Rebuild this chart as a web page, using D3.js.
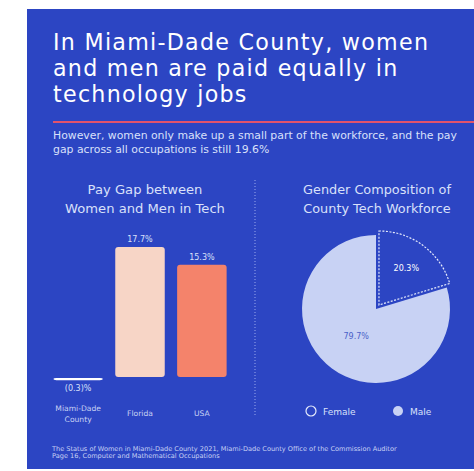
<!DOCTYPE html>
<html><head><meta charset="utf-8">
<script src="https://cdn.jsdelivr.net/npm/d3@7"></script>
<style>
html,body{margin:0;padding:0;background:#fff;}
svg{display:block;}
text{font-family:"DejaVu Sans","Open Sans",sans-serif;}
</style></head>
<body>
<svg id="c" width="474" height="471"></svg>
<script>
// ---- data ----
const titleLines = ["In Miami-Dade County, women", "and men are paid equally in", "technology jobs"];
const subtitleLines = ["However, women only make up a small part of the workforce, and the pay", "gap across all occupations is still 19.6%"];
const barTitle = ["Pay Gap between", "Women and Men in Tech"];
const barCategories = [["Miami-Dade", "County"], ["Florida"], ["USA"]];
const barValues = [-0.3, 17.7, 15.3];
const barLabels = ["(0.3)%", "17.7%", "15.3%"];
const pieTitle = ["Gender Composition of", "County Tech Workforce"];
const pieCategories = ["Female", "Male"];
const pieValues = [20.3, 79.7];
const pieLabels = ["20.3%", "79.7%"];
const sourceLines = ["The Status of Women in Miami-Dade County 2021, Miami-Dade County Office of the Commission Auditor", "Page 16, Computer and Mathematical Occupations"];

const BG = "#2c45c3";
const svg = d3.select("#c");

svg.append("rect").attr("x", 27).attr("y", 9).attr("width", 447).attr("height", 460).attr("fill", BG);

// fit a group of lines: size chosen so the reference line gets width w
function block(cls, lines, x, y0, dy, w, refIdx, attrs) {
  const sel = svg.selectAll("text." + cls).data(lines).join("text").attr("class", cls)
    .attr("x", x).attr("y", (d, i) => y0 + i * dy).text(d => d).attr("font-size", 10);
  Object.entries(attrs).forEach(([k, v]) => sel.attr(k, v));
  const l = sel.nodes()[refIdx].getComputedTextLength();
  sel.attr("font-size", 10 * w / l);
  return sel;
}

// title: fixed size to keep line boxes apart, widened with letter-spacing
const tsel = svg.selectAll("text.title").data(titleLines).join("text").attr("class", "title")
  .attr("x", 53).attr("y", (d, i) => 50 + i * 26).attr("fill", "#ffffff")
  .attr("font-size", 22.2).text(d => d);
{
  const n = tsel.nodes()[0];
  const w = n.getComputedTextLength();
  const ls = (375 - w) / (titleLines[0].length - 1);
  tsel.attr("letter-spacing", ls);
}

svg.append("line").attr("x1", 53).attr("x2", 474).attr("y1", 122).attr("y2", 122)
  .attr("stroke", "#e2536b").attr("stroke-width", 2);

block("sub", subtitleLines, 53, 139, 14, 404, 0, { fill: "#d9e0fa" });

// bar chart
const x = d3.scaleBand().domain(d3.range(barValues.length)).range([41, 239]).padding(0.2);
const y = d3.scaleLinear().domain([0, 17.7]).range([377, 247]);
const barColors = ["#ffffff", "#f7d5c6", "#f4836b"];

block("btitle", barTitle, 145, 194, 19, 160, 1, { fill: "#d9e0fa", "text-anchor": "middle" });

const g = svg.append("g");
g.selectAll("rect.bar").data(barValues).join("rect").attr("class", "bar")
  .attr("x", (d, i) => x(i)).attr("width", x.bandwidth())
  .attr("y", d => Math.min(y(0), y(d)) + (d < 0 ? 1 : 0))
  .attr("height", d => Math.max(2, Math.abs(y(d) - y(0))))
  .attr("rx", 3).attr("fill", (d, i) => barColors[i]);

g.selectAll("text.val").data(barValues).join("text").attr("class", "val")
  .attr("x", (d, i) => x(i) + x.bandwidth() / 2)
  .attr("y", d => d >= 0 ? y(d) - 5 : y(d) + 12)
  .attr("text-anchor", "middle").attr("fill", "#d9e0fa").attr("font-size", 8)
  .text((d, i) => barLabels[i]);

barCategories.forEach((lines, i) => {
  const cx = x(i) + x.bandwidth() / 2;
  lines.forEach((t, j) => {
    svg.append("text").attr("x", cx).attr("y", 416 - (lines.length - 1) * 5.5 + j * 11)
      .attr("text-anchor", "middle").attr("fill", "#c8d2f4").attr("font-size", 7.6).text(t);
  });
});

// divider
svg.append("line").attr("x1", 255).attr("x2", 255).attr("y1", 180).attr("y2", 416)
  .attr("stroke", "#9aa9ec").attr("stroke-width", 1).attr("stroke-dasharray", "1,2");

// pie
block("ptitle", pieTitle, 377, 194, 19, 148, 0, { fill: "#d9e0fa", "text-anchor": "middle" });

const cx = 376, cy = 309, R = 74;
const pie = d3.pie().sort(null)(pieValues);
const arc = d3.arc().innerRadius(0).outerRadius(R);
const explode = [5, 0];
const labelR = [0.62, 0.45];
const off = (d, r) => {
  const a = (d.startAngle + d.endAngle) / 2;
  return [r * Math.sin(a), -r * Math.cos(a)];
};
const pg = svg.append("g").attr("transform", `translate(${cx},${cy})`);
pg.selectAll("path").data(pie).join("path")
  .attr("d", arc)
  .attr("transform", (d, i) => { const o = off(d, explode[i]); return `translate(${o[0]},${o[1]})`; })
  .attr("fill", (d, i) => i === 0 ? BG : "#c8d2f4")
  .attr("stroke", (d, i) => i === 0 ? "#e6ebfc" : "none")
  .attr("stroke-width", 1.2)
  .attr("stroke-dasharray", (d, i) => i === 0 ? "2,1.5" : null);

pg.selectAll("text").data(pie).join("text")
  .attr("transform", (d, i) => { const o = off(d, R * labelR[i] + explode[i]); return `translate(${o[0]},${o[1] + 3})`; })
  .attr("text-anchor", "middle").attr("font-size", 8)
  .attr("fill", (d, i) => i === 0 ? "#ffffff" : "#4a61c8")
  .text((d, i) => pieLabels[i]);

// legend
const legX = [311, 398];
pieCategories.forEach((c, i) => {
  svg.append("circle").attr("cx", legX[i]).attr("cy", 411).attr("r", 5)
    .attr("fill", i === 0 ? "none" : "#c8d2f4").attr("stroke", i === 0 ? "#e6ebfc" : "none").attr("stroke-width", 1.2);
  svg.append("text").attr("x", legX[i] + 12).attr("y", 414.5).attr("fill", "#d9e0fa")
    .attr("font-size", 9).text(c);
});

// source
block("src", sourceLines, 52, 451, 6.5, 345, 0, { fill: "#c8d2f4" });
</script>
</body></html>
